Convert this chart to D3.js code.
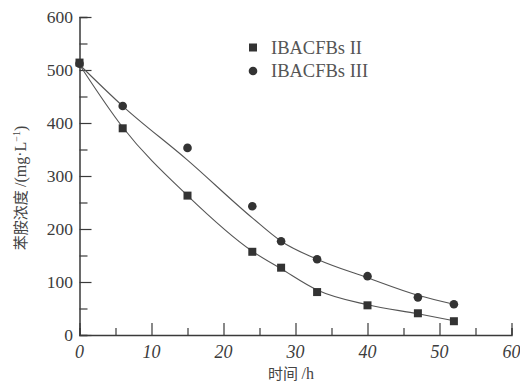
<!DOCTYPE html>
<html><head><meta charset="utf-8">
<script src="https://cdn.jsdelivr.net/npm/d3@7"></script>
<style>body{margin:0;background:#fff}svg{display:block}</style>
</head><body>
<svg id="c" width="520" height="383"></svg>
<script>
const timeH = [0, 6, 15, 24, 28, 33, 40, 47, 52];
const seriesII = [514, 390, 263, 157, 127, 81, 56, 41, 26];
const seriesIII = [512, 432, 353, 243, 177, 143, 111, 71, 58];
const fitII = [510, 392, 263, 158, 125, 85, 57, 40, 27];
const fitIII = [510, 432, 330, 221, 177, 143, 108, 75, 58];
const xTicks = [0, 10, 20, 30, 40, 50, 60];
const yTicks = [0, 100, 200, 300, 400, 500, 600];
const legendNames = ["IBACFBs II", "IBACFBs III"];

const svg = d3.select("#c");
const x = d3.scaleLinear().domain([0, 60]).range([79.5, 511.5]);
const y = d3.scaleLinear().domain([0, 600]).range([335, 17]);
const axisCol = "#3a3a3a";
const serif = "'Liberation Serif','Times New Roman',serif";
const cjk = "'Noto Sans CJK SC',sans-serif";

// x axis (ticks inward)
const gx = svg.append("g").attr("transform", `translate(0,${y(0)})`)
  .call(d3.axisBottom(x).tickValues(d3.range(0, 61, 5)).tickSize(-7).tickFormat(""));
gx.select(".domain").attr("stroke", axisCol).attr("stroke-width", 1.5);
gx.selectAll(".tick line").attr("stroke", axisCol).attr("stroke-width", 1.2)
  .filter(d => d % 10 === 0).attr("y2", -12);
svg.append("g").selectAll("text").data(xTicks).join("text")
  .attr("x", d => x(d)).attr("y", 358).attr("text-anchor", "middle")
  .attr("font-family", serif).attr("font-style", "italic").attr("font-size", 18)
  .attr("fill", "#3c3c3c").text(d => d);

// y axis
const gy = svg.append("g").attr("transform", `translate(${x(0)},0)`)
  .call(d3.axisLeft(y).tickValues(d3.range(0, 601, 50)).tickSize(-8).tickFormat(""));
gy.select(".domain").attr("stroke", axisCol).attr("stroke-width", 1.5);
gy.selectAll(".tick line").attr("stroke", axisCol).attr("stroke-width", 1.2)
  .filter(d => d % 100 === 0).attr("x2", 12);
svg.append("g").selectAll("text").data(yTicks).join("text")
  .attr("x", 73).attr("y", d => y(d) + 6).attr("text-anchor", "end")
  .attr("font-family", serif).attr("font-size", 17.5)
  .attr("fill", "#3c3c3c").text(d => d);

// fit lines
const line = d3.line().x((d, i) => x(timeH[i])).y(d => y(d)).curve(d3.curveMonotoneX);
[fitII, fitIII].forEach(f => {
  svg.append("path").attr("d", line(f)).attr("fill", "none")
    .attr("stroke", "#555").attr("stroke-width", 1.1);
});

// markers
svg.append("g").selectAll("rect").data(seriesII).join("rect")
  .attr("x", (d, i) => x(timeH[i]) - 4).attr("y", d => y(d) - 4)
  .attr("width", 8).attr("height", 8).attr("fill", "#333");
svg.append("g").selectAll("circle").data(seriesIII).join("circle")
  .attr("cx", (d, i) => x(timeH[i])).attr("cy", d => y(d)).attr("r", 4.3).attr("fill", "#333");

// legend
const lg = svg.append("g");
lg.append("rect").attr("x", 249).attr("y", 43.5).attr("width", 8).attr("height", 8).attr("fill", "#333");
lg.append("circle").attr("cx", 253).attr("cy", 71).attr("r", 4.3).attr("fill", "#333");
lg.selectAll("text").data(legendNames).join("text")
  .attr("x", 271).attr("y", (d, i) => 53.5 + i * 23.5)
  .attr("font-family", serif).attr("font-size", 18.5).attr("fill", "#555").text(d => d);

// axis titles
const yl = svg.append("text").attr("transform", "translate(26,188) rotate(-90)")
  .attr("text-anchor", "middle").attr("font-size", 15).attr("fill", "#444");
yl.append("tspan").attr("font-family", cjk).text("苯胺浓度 ");
yl.append("tspan").attr("font-family", serif).attr("font-size", 16).text("/(mg·L");
yl.append("tspan").attr("font-family", serif).attr("font-size", 10).attr("dy", -6).text("−1");
yl.append("tspan").attr("font-family", serif).attr("font-size", 16).attr("dy", 6).text(")");
svg.append("text").attr("x", 291).attr("y", 379).attr("text-anchor", "middle")
  .attr("fill", "#444")
  .call(t => {
    t.append("tspan").attr("font-family", cjk).attr("font-size", 15).text("时间 ");
    t.append("tspan").attr("font-family", serif).attr("font-size", 16).text("/h");
  });
</script>
</body></html>
